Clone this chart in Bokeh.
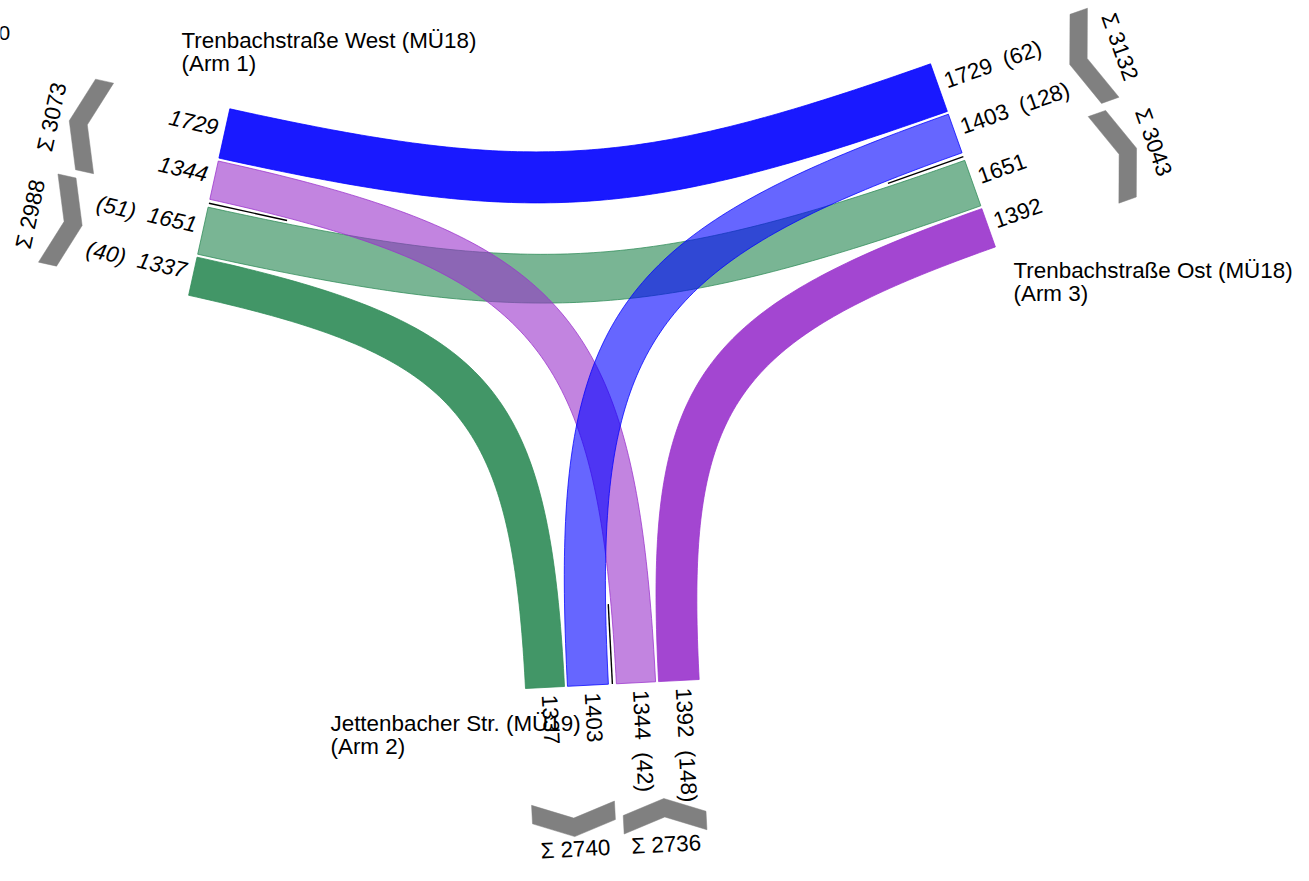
import numpy as np
from bokeh.plotting import figure
from bokeh.models import Range1d
from bokeh.embed import file_html
from bokeh.resources import INLINE
from bokeh.core.properties import value

# ---------------- data ----------------
arm_names = ["Trenbachstraße West (MÜ18)", "Jettenbacher Str. (MÜ19)", "Trenbachstraße Ost (MÜ18)"]
arm_numbers = ["(Arm 1)", "(Arm 2)", "(Arm 3)"]
flow_values = [1729, 1344, 1651, 1337, 1403, 1392]
flow_heavy = [62, 42, 51, 40, 128, 148]
flow_origin = [2, 1, 0, 0, 2, 1]   # 0 West, 1 South, 2 East
flow_dest = [0, 0, 2, 1, 1, 2]
flow_colors = ["#0000ff", "#9932cc", "#2e8b57", "#2e8b57", "#0000ff", "#9932cc"]
flow_alpha = [0.9, 0.6, 0.64, 0.9, 0.6, 0.9]
arm_slots = [[[0, 1], [2, 3]], [[3, 4], [1, 5]], [[0, 4], [2, 5]]]
corner_text = "0"

# ---------------- layout ----------------
K = 0.0292
GAP_S, GAP_M = 3.0, 8.0
arm_start = [(229.3, 108.3), (525.0, 688.0), (930.0, 63.3)]
arm_along = [(-0.2156, 0.9765), (0.9987, -0.0517), (0.334, 0.9425)]
arm_inward = [(0.9765, 0.2156), (-0.0517, -0.9987), (-0.9425, 0.334)]
arm_sum_base = [119.0, 117.0, 131.0]
arm_sum_label = [172.0, 163.0, 184.0]
arm_label_style = ["italic", "normal", "normal"]
title_pos = [(181, 39.5), (330, 723.0), (1013, 270.0)]
FONT = value("Liberation Sans")
FS = "22.4px"
SEP = " \u00a0"


def P(arm, u, v=0.0):
    sx, sy = arm_start[arm]
    ax, ay = arm_along[arm]
    nx, ny = arm_inward[arm]
    return np.array([sx + u * ax + v * nx, sy + u * ay + v * ny])


def cross(a, b):
    return a[0] * b[1] - a[1] * b[0]


def bez_edge(p0, d0, p3, d3, a=0.85, n=100):
    d0 = np.array(d0)
    d3 = np.array(d3)
    M = np.array([[d0[0], -d3[0]], [d0[1], -d3[1]]])
    rhs = p3 - p0
    chord = np.linalg.norm(rhs)
    try:
        s, t = np.linalg.solve(M, rhs)
    except Exception:
        s = t = -1
    if not (s > 0 and t > 0) or s > 2 * chord or t > 2 * chord:
        s = t = 0.46 * chord / a
    p1 = p0 + a * s * d0
    p2 = p3 + a * t * d3
    tt = np.linspace(0, 1, n)[:, None]
    return (1 - tt) ** 3 * p0 + 3 * (1 - tt) ** 2 * tt * p1 + 3 * (1 - tt) * tt ** 2 * p2 + tt ** 3 * p3


# slots
slot = {}
group_span = {}
mid_gap = {}
for arm in range(3):
    u = 0.0
    for g, grp in enumerate(arm_slots[arm]):
        g0 = u
        for i, f in enumerate(grp):
            if i > 0:
                u += GAP_S
            w = flow_values[f] * K
            slot[(arm, f)] = (u, u + w)
            u += w
        group_span[(arm, g)] = (g0, u)
        if g == 0:
            mid_gap[arm] = u + GAP_M / 2
            u += GAP_M

W, H = 1293, 865
p = figure(width=W, height=H, x_range=Range1d(0, W), y_range=Range1d(-H, 0),
           output_backend="svg", toolbar_location=None, min_border=0)
p.axis.visible = False
p.grid.visible = False
p.outline_line_color = None
p.background_fill_color = "white"

# ---------------- bands ----------------
for f in [0, 2, 3, 1, 4, 5]:
    A, B = flow_origin[f], flow_dest[f]
    alo, ahi = slot[(A, f)]
    blo, bhi = slot[(B, f)]
    sA = np.sign(cross(arm_inward[A], arm_along[A]))
    sB = np.sign(cross((-arm_inward[B][0], -arm_inward[B][1]), arm_along[B]))
    pairs = ((alo, blo), (ahi, bhi)) if sA == sB else ((alo, bhi), (ahi, blo))
    e1 = bez_edge(P(A, pairs[0][0]), arm_inward[A], P(B, pairs[0][1]), arm_inward[B])
    e2 = bez_edge(P(A, pairs[1][0]), arm_inward[A], P(B, pairs[1][1]), arm_inward[B])
    poly = np.vstack([e1, e2[::-1]])
    p.patch(poly[:, 0], -poly[:, 1], fill_color=flow_colors[f], fill_alpha=flow_alpha[f],
            line_color=flow_colors[f], line_alpha=0.75, line_width=1)

# ---------------- separators ----------------
for arm in range(3):
    a0 = P(arm, mid_gap[arm], 0)
    a1 = P(arm, mid_gap[arm], 80)
    p.line([a0[0], a1[0]], [-a0[1], -a1[1]], line_color="black", line_width=1.4)

# ---------------- chevrons and sums ----------------
T = 18.5
for arm in range(3):
    b = arm_sum_base[arm]
    ax, ay = arm_along[arm]
    r = (ax, ay) if ax > 0 else (-ax, -ay)
    ang = float(np.arctan2(-r[1], r[0]))
    for g in range(2):
        u0, u1 = group_span[(arm, g)]
        um = (u0 + u1) / 2
        h = 0.18 * (u1 - u0)
        grp = arm_slots[arm][g]
        is_origin = flow_origin[grp[0]] == arm
        if is_origin:
            inner = [(u0, b + h), (um, b), (u1, b + h)]
        else:
            inner = [(u0, b), (um, b + h), (u1, b)]
        outer = [(uu, ww + T) for uu, ww in inner][::-1]
        pts = np.array([P(arm, uu, -ww) for uu, ww in inner + outer])
        p.patch(pts[:, 0], -pts[:, 1], fill_color="#808080", line_color="#808080", line_width=0.5)
        total = sum(flow_values[f] for f in grp)
        lp = P(arm, um, -arm_sum_label[arm])
        p.text([lp[0]], [-lp[1]], text=[f"Σ {total}"], angle=ang, text_align="center",
               text_baseline="middle", text_font=FONT, text_font_size=FS, text_color="black")

# ---------------- flow labels ----------------
for arm in range(3):
    nx, ny = arm_inward[arm]
    out = (-nx, -ny)
    if out[0] > 0:
        rdir, align, leftside = out, "left", False
    else:
        rdir, align, leftside = (nx, ny), "right", True
    ang = float(np.arctan2(-rdir[1], rdir[0]))
    up = (rdir[1], -rdir[0])
    xs, ys, txt = [], [], []
    for grp in arm_slots[arm]:
        for f in grp:
            lo, hi = slot[(arm, f)]
            c = P(arm, (lo + hi) / 2, -7.5)
            c = c + 4.0 * np.array(up)
            if flow_origin[f] == arm:
                s = (f"({flow_heavy[f]}){SEP}{flow_values[f]}" if leftside
                     else f"{flow_values[f]}{SEP}({flow_heavy[f]})")
            else:
                s = f"{flow_values[f]}"
            xs.append(c[0]); ys.append(-c[1]); txt.append(s)
    p.text(xs, ys, text=txt, angle=ang, text_align=align, text_baseline="middle",
           text_font=FONT, text_font_size=FS, text_font_style=arm_label_style[arm],
           text_color="black")

# ---------------- titles ----------------
for arm in range(3):
    x, y = title_pos[arm]
    p.text([x, x], [-y, -(y + 23)], text=[arm_names[arm], arm_numbers[arm]],
           text_align="left", text_baseline="middle", text_font=FONT,
           text_font_size=FS, text_color="black")

p.text([-2], [-32.5], text=[corner_text], text_align="left", text_baseline="middle",
       text_font=FONT, text_font_size="21px", text_color="black")

open("out.html", "w").write(file_html(p, INLINE))
